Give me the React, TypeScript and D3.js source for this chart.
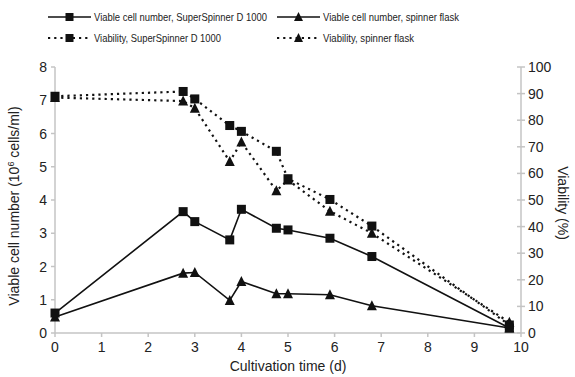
import React from "react";
import * as d3 from "d3";

const days = [0, 2.75, 3, 3.75, 4, 4.75, 5, 5.9, 6.8, 9.75];
const cellsSuperSpinner = [0.6, 3.65, 3.35, 2.8, 3.72, 3.15, 3.1, 2.85, 2.3, 0.15];
const cellsSpinner = [0.48, 1.8, 1.82, 0.98, 1.55, 1.18, 1.18, 1.15, 0.82, 0.15];
const viabilitySuperSpinner = [89, 90.8, 88, 78, 75.8, 68.3, 58, 50.2, 40.2, 3];
const viabilitySpinner = [88.5, 87.2, 84.5, 64.5, 71.8, 53.5, 57.5, 45.8, 37.5, 4];

const xTicks = [0, 1, 2, 3, 4, 5, 6, 7, 8, 9, 10];
const yLeftTicks = [0, 1, 2, 3, 4, 5, 6, 7, 8];
const yRightTicks = [0, 10, 20, 30, 40, 50, 60, 70, 80, 90, 100];

const legendLabels = [
  "Viable cell number, SuperSpinner D 1000",
  "Viable cell number, spinner flask",
  "Viability, SuperSpinner D 1000",
  "Viability, spinner flask",
];

const W = 575;
const H = 377;
const left = 55;
const right = 521;
const top = 67;
const bottom = 333;
const axisColor = "#c4c4c4";
const textColor = "#222";
const font = "'Liberation Sans', Arial, Helvetica, sans-serif";
const dash = "2.2,4";

const x = d3.scaleLinear().domain([0, 10]).range([left, right]);
const yL = d3.scaleLinear().domain([0, 8]).range([bottom, top]);
const yR = d3.scaleLinear().domain([0, 100]).range([bottom, top]);

function Square({ cx, cy, s = 9 }: { cx: number; cy: number; s?: number }) {
  return <rect x={cx - s / 2} y={cy - s / 2} width={s} height={s} fill="#111" />;
}
function Triangle({ cx, cy, s = 10 }: { cx: number; cy: number; s?: number }) {
  const h = s * 0.9;
  const p = `M${cx},${cy - h / 2 - 1} L${cx + s / 2},${cy + h / 2} L${cx - s / 2},${cy + h / 2} Z`;
  return <path d={p} fill="#111" />;
}

function Series({
  vals,
  y,
  dashed,
  marker,
}: {
  vals: number[];
  y: d3.ScaleLinear<number, number>;
  dashed: boolean;
  marker: "square" | "triangle";
}) {
  const line = d3
    .line<number>()
    .x((_, i) => x(days[i]))
    .y((v) => y(v));
  return (
    <g>
      <path
        d={line(vals) || ""}
        fill="none"
        stroke="#111"
        strokeWidth={dashed ? 2.2 : 1.6}
        strokeDasharray={dashed ? dash : undefined}
      />
      {vals.map((v, i) =>
        marker === "square" ? (
          <Square key={i} cx={x(days[i])} cy={y(v)} />
        ) : (
          <Triangle key={i} cx={x(days[i])} cy={y(v)} />
        )
      )}
    </g>
  );
}

function LegendItem({
  lx,
  ly,
  label,
  dashed,
  marker,
  width,
}: {
  lx: number;
  ly: number;
  label: string;
  dashed: boolean;
  marker: "square" | "triangle";
  width: number;
}) {
  return (
    <g>
      <line
        x1={lx}
        x2={lx + 43}
        y1={ly}
        y2={ly}
        stroke="#111"
        strokeWidth={dashed ? 2.2 : 1.6}
        strokeDasharray={dashed ? dash : undefined}
      />
      {marker === "square" ? (
        <Square cx={lx + 21.5} cy={ly} s={8} />
      ) : (
        <Triangle cx={lx + 21.5} cy={ly} s={9} />
      )}
      <text
        x={lx + 46}
        y={ly + 3.8}
        fontSize={10.5}
        fill={textColor}
        fontFamily={font}
        textLength={width}
        lengthAdjust="spacingAndGlyphs"
      >
        {label}
      </text>
    </g>
  );
}

export default function App() {
  return (
    <svg
      width={W}
      height={H}
      style={{ position: "absolute", left: 0, top: 0, background: "#fff" }}
    >
      {/* Legend */}
      <LegendItem lx={48} ly={17} label={legendLabels[0]} dashed={false} marker="square" width={173} />
      <LegendItem lx={277} ly={17} label={legendLabels[1]} dashed={false} marker="triangle" width={136} />
      <LegendItem lx={48} ly={38} label={legendLabels[2]} dashed={true} marker="square" width={127} />
      <LegendItem lx={277} ly={38} label={legendLabels[3]} dashed={true} marker="triangle" width={91} />

      {/* Axes */}
      <line x1={left} x2={left} y1={top} y2={bottom} stroke={axisColor} strokeWidth={1.5} />
      <line x1={right} x2={right} y1={top} y2={bottom} stroke={axisColor} strokeWidth={1.5} />
      <line x1={left} x2={right} y1={bottom} y2={bottom} stroke={axisColor} strokeWidth={1.5} />

      {yLeftTicks.map((t) => (
        <g key={"l" + t}>
          <line x1={left - 4} x2={left} y1={yL(t)} y2={yL(t)} stroke={axisColor} strokeWidth={1.5} />
          <text
            x={left - 8}
            y={yL(t) + 5}
            textAnchor="end"
            fontSize={14}
            fill={textColor}
            fontFamily={font}
          >
            {t}
          </text>
        </g>
      ))}
      {yRightTicks.map((t) => (
        <g key={"r" + t}>
          <line x1={right - 4} x2={right + 4} y1={yR(t)} y2={yR(t)} stroke={axisColor} strokeWidth={1.5} />
          <text
            x={right + 7}
            y={yR(t) + 5}
            textAnchor="start"
            fontSize={14}
            fill={textColor}
            fontFamily={font}
          >
            {t}
          </text>
        </g>
      ))}
      {xTicks.map((t) => (
        <g key={"x" + t}>
          <line x1={x(t)} x2={x(t)} y1={bottom} y2={bottom + 4} stroke={axisColor} strokeWidth={1.5} />
          <text
            x={x(t)}
            y={bottom + 19}
            textAnchor="middle"
            fontSize={14}
            fill={textColor}
            fontFamily={font}
          >
            {t}
          </text>
        </g>
      ))}

      {/* Axis titles */}
      <text
        x={288}
        y={371}
        textAnchor="middle"
        fontSize={14}
        fill={textColor}
        fontFamily={font}
      >
        Cultivation time (d)
      </text>
      <text
        transform={`translate(19,${(top + bottom) / 2 + 6}) rotate(-90)`}
        textAnchor="middle"
        fontSize={14}
        fill={textColor}
        fontFamily={font}
      >
        Viable cell number (10
        <tspan dy={-5} fontSize={9}>
          6
        </tspan>
        <tspan dy={5}> cells/ml)</tspan>
      </text>
      <text
        transform={`translate(558,${(top + bottom) / 2 + 3}) rotate(90)`}
        textAnchor="middle"
        fontSize={14}
        fill={textColor}
        fontFamily={font}
      >
        Viability (%)
      </text>

      {/* Data */}
      <Series vals={viabilitySpinner} y={yR} dashed={true} marker="triangle" />
      <Series vals={viabilitySuperSpinner} y={yR} dashed={true} marker="square" />
      <Series vals={cellsSpinner} y={yL} dashed={false} marker="triangle" />
      <Series vals={cellsSuperSpinner} y={yL} dashed={false} marker="square" />
    </svg>
  );
}
